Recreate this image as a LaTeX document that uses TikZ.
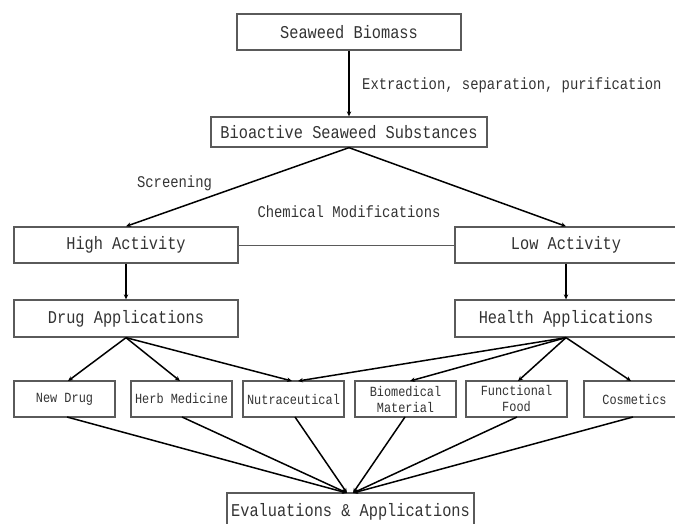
\documentclass[tikz,border=0pt]{standalone}
\usepackage{fontspec}
\setmainfont{Liberation Mono}[FakeStretch=0.85]
\usetikzlibrary{arrows.meta}
\definecolor{boxline}{HTML}{5A5A5A}
\definecolor{txt}{HTML}{333333}
\tikzset{
  box/.style={draw=boxline, line width=1.3pt, fill=white, inner sep=0pt, text=txt, align=center},
  bigtxt/.style={font=\fontsize{18}{20}\selectfont},
  midtxt/.style={font=\fontsize{16.3}{18}\selectfont, text=txt},
  smalltxt/.style={font=\fontsize{14}{17}\selectfont},
  arr/.style={draw=black, line width=1.5pt, -{Stealth[length=5pt,width=4.5pt]}},
  thinline/.style={draw=boxline, line width=1pt}
}
\begin{document}
\begin{tikzpicture}[x=1pt,y=-1pt]
\useasboundingbox (0,0) rectangle (675,524);
% top boxes
\node[box,bigtxt,minimum width=224pt,minimum height=36pt] (bio) at (349,32) {Seaweed Biomass};
\node[box,bigtxt,minimum width=276pt,minimum height=30pt] (bas) at (349,132) {Bioactive Seaweed Substances};
\node[box,bigtxt,minimum width=224pt,minimum height=36pt] (high) at (126,245) {High Activity};
\node[box,bigtxt,minimum width=222pt,minimum height=36pt] (low) at (566,245) {Low Activity};
\node[box,bigtxt,minimum width=224pt,minimum height=37pt] (drug) at (126,318.5) {Drug Applications};
\node[box,bigtxt,minimum width=222pt,minimum height=37pt] (health) at (566,318.5) {Health Applications};
% bottom row
\node[box,smalltxt,minimum width=101pt,minimum height=36pt] (newdrug) at (64.5,399) {New Drug};
\node[box,smalltxt,minimum width=101pt,minimum height=36pt] (herb) at (181.5,399) {Herb Medicine};
\node[box,smalltxt,minimum width=101pt,minimum height=36pt] (nutra) at (293.5,399) {Nutraceutical};
\node[box,smalltxt,minimum width=101pt,minimum height=36pt] (biomed) at (405.5,399) {Biomedical\\[-1pt]Material};
\node[box,smalltxt,minimum width=101pt,minimum height=36pt] (func) at (516.5,399) {Functional\\[-1pt]Food};
\node[box,smalltxt,minimum width=101pt,minimum height=36pt] (cosm) at (634.5,399) {Cosmetics};
\node[box,bigtxt,minimum width=247pt,minimum height=37pt] (eval) at (350.5,511.5) {Evaluations \& Applications};
% labels
\node[midtxt,anchor=west,inner sep=0pt] (lext) at (362,85) {Extraction, separation, purification};
\node[midtxt,inner sep=0pt] (lscr) at (174.5,183) {Screening};
\node[midtxt,inner sep=0pt] (lchem) at (349,212) {Chemical Modifications};
% connectors
\draw[arr] (bio.south) -- (bas.north);
\coordinate (basb) at (349,147);
\draw[arr] (bas.south) -- (high.north);
\draw[arr] (bas.south) -- (low.north);
\draw[thinline] (high.east) -- (low.west);
\draw[arr] (high.south) -- (drug.south |- drug.north);
\draw[arr] (low.south) -- (health.south |- health.north);
\coordinate (tnd) at (68,381);
\coordinate (thb) at (180,381);
\coordinate (tnu1) at (292,381);
\coordinate (tnu2) at (298,381);
\coordinate (tbm) at (410,381);
\coordinate (tff) at (518,381);
\coordinate (tcs) at (631,381);
\draw[arr] (drug.south) -- (tnd);
\draw[arr] (drug.south) -- (thb);
\draw[arr] (drug.south) -- (tnu1);
\draw[arr] (health.south) -- (tnu2);
\draw[arr] (health.south) -- (tbm);
\draw[arr] (health.south) -- (tff);
\draw[arr] (health.south) -- (tcs);
\coordinate (bnd) at (67,417);
\coordinate (bhb) at (182,417);
\coordinate (bnu) at (295,417);
\coordinate (bbm) at (405,417);
\coordinate (bff) at (517,417);
\coordinate (bcs) at (633,417);
\coordinate (ev1) at (347,493);
\coordinate (ev2) at (353,493);
\draw[arr] (bnd) -- (ev1);
\draw[arr] (bhb) -- (ev1);
\draw[arr] (bnu) -- (ev1);
\draw[arr] (bbm) -- (ev2);
\draw[arr] (bff) -- (ev2);
\draw[arr] (bcs) -- (ev2);
\end{tikzpicture}
\end{document}
